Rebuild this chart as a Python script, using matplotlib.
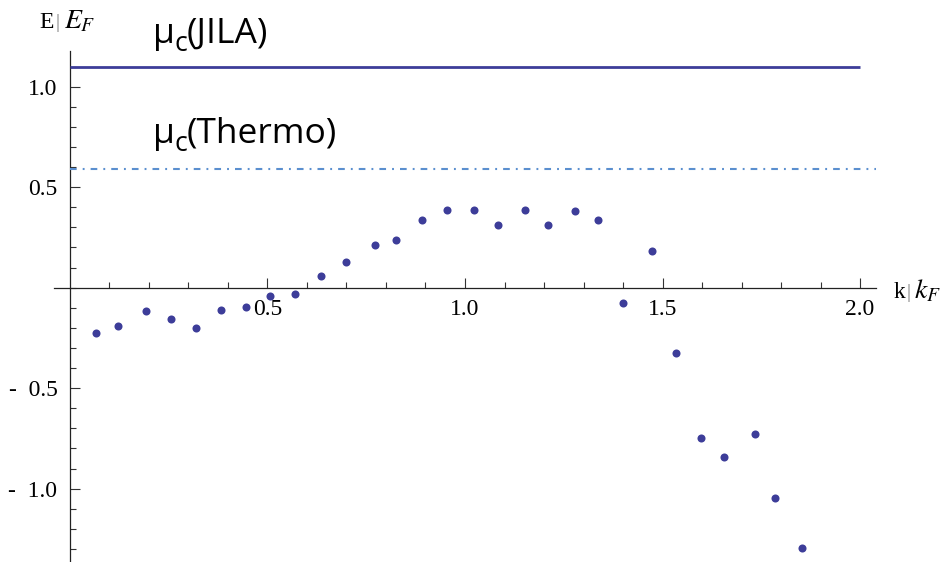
import numpy as np
import matplotlib
matplotlib.use("Agg")
import matplotlib.pyplot as plt
from matplotlib.ticker import FixedLocator, FixedFormatter

# dispersion points E/E_F vs k/k_F
k_vals = [0.067, 0.122, 0.192, 0.255, 0.318, 0.382, 0.446, 0.506, 0.570, 0.636,
          0.700, 0.773, 0.825, 0.891, 0.954, 1.023, 1.083, 1.152, 1.210, 1.279,
          1.336, 1.401, 1.474, 1.533, 1.597, 1.656, 1.735, 1.784, 1.853]
e_vals = [-0.227, -0.189, -0.116, -0.156, -0.202, -0.109, -0.096, -0.040, -0.031, 0.060,
          0.126, 0.211, 0.237, 0.335, 0.388, 0.388, 0.310, 0.388, 0.310, 0.382,
          0.335, -0.078, 0.183, -0.326, -0.746, -0.844, -0.726, -1.048, -1.297]

mu_jila = 1.10
mu_thermo = 0.59

x_major = [0.5, 1.0, 1.5, 2.0]
x_labels = ["0.5", "1.0", "1.5", "2.0"]
y_major = [-1.0, -0.5, 0.5, 1.0]
y_labels = ["-  1.0", "-  0.5", "0.5", "1.0"]

DOT = "#3d3d99"
THERMO = "#5b8fcf"

W, H = 944, 562
fig = plt.figure(figsize=(W / 100, H / 100), dpi=100)
ax = fig.add_axes([54 / W, 0.0, 822 / W, 511.3 / H])
ax.set_xlim(-0.0405, 2.0405)
ax.set_ylim(-1.365, 1.179)

for side in ("top", "right"):
    ax.spines[side].set_visible(False)
ax.spines["left"].set_position(("data", 0))
ax.spines["bottom"].set_position(("data", 0))
for side in ("left", "bottom"):
    ax.spines[side].set_linewidth(0.9)
    ax.spines[side].set_color("#222222")

serif = "Liberation Serif"
ax.xaxis.set_major_locator(FixedLocator(x_major))
ax.xaxis.set_major_formatter(FixedFormatter(x_labels))
ax.xaxis.set_minor_locator(FixedLocator(np.round(np.arange(0.1, 2.01, 0.1), 2)))
ax.yaxis.set_major_locator(FixedLocator(y_major))
ax.yaxis.set_major_formatter(FixedFormatter(y_labels))
ax.yaxis.set_minor_locator(FixedLocator(np.round(np.arange(-1.3, 1.11, 0.1), 2)))

ax.tick_params(which="both", direction="in", color="#333333", width=0.8)
ax.tick_params(which="major", length=7)
ax.tick_params(which="minor", length=4.3)
ax.tick_params(axis="x", which="major", pad=8)
ax.tick_params(axis="y", which="major", pad=9)
for lab in ax.get_xticklabels() + ax.get_yticklabels():
    lab.set_fontfamily(serif)
    lab.set_fontsize(17)

# reference chemical potentials
ax.plot([0, 2.0], [mu_jila, mu_jila], color=DOT, lw=2.0, solid_capstyle="butt", zorder=3)
ax.plot([0, 2.04], [mu_thermo, mu_thermo], color=THERMO, lw=1.5,
        linestyle=(0, (3.2, 2.9, 0.9, 2.9)), zorder=3)

ax.plot(k_vals, e_vals, "o", color=DOT, markersize=5.8, markeredgewidth=0,
        zorder=4, clip_on=False)

# axis labels
def ftxt(px, py, s, **kw):
    fig.text(px / W, 1 - py / H, s, **kw)

ftxt(39, 28, "E", family=serif, fontsize=17, va="baseline")
ftxt(55, 28, "|", family="DejaVu Sans", fontsize=13, color="#aaaaaa", va="baseline")
ftxt(64, 28, "$E_F$", fontsize=20, math_fontfamily="stix", va="baseline")
ftxt(894, 298, "k", family=serif, fontsize=17, va="baseline")
ftxt(906, 298, "|", family="DejaVu Sans", fontsize=13, color="#aaaaaa", va="baseline")
ftxt(914, 298, "$k_F$", fontsize=20, math_fontfamily="stix", va="baseline")

# annotations: mu with a roomy subscript c
def mu_label(px, py, tail):
    fs = 25.5
    ftxt(px, py, "μ", family="Open Sans", fontsize=fs, va="baseline")
    ftxt(px + 21, py + 8, "c", family="Open Sans", fontsize=fs * 0.75, va="baseline")
    ftxt(px + 34, py, tail, family="Open Sans", fontsize=fs, va="baseline")

mu_label(153, 43, "(JILA)")
mu_label(153, 143, "(Thermo)")

fig.savefig("out.png", dpi=100)
